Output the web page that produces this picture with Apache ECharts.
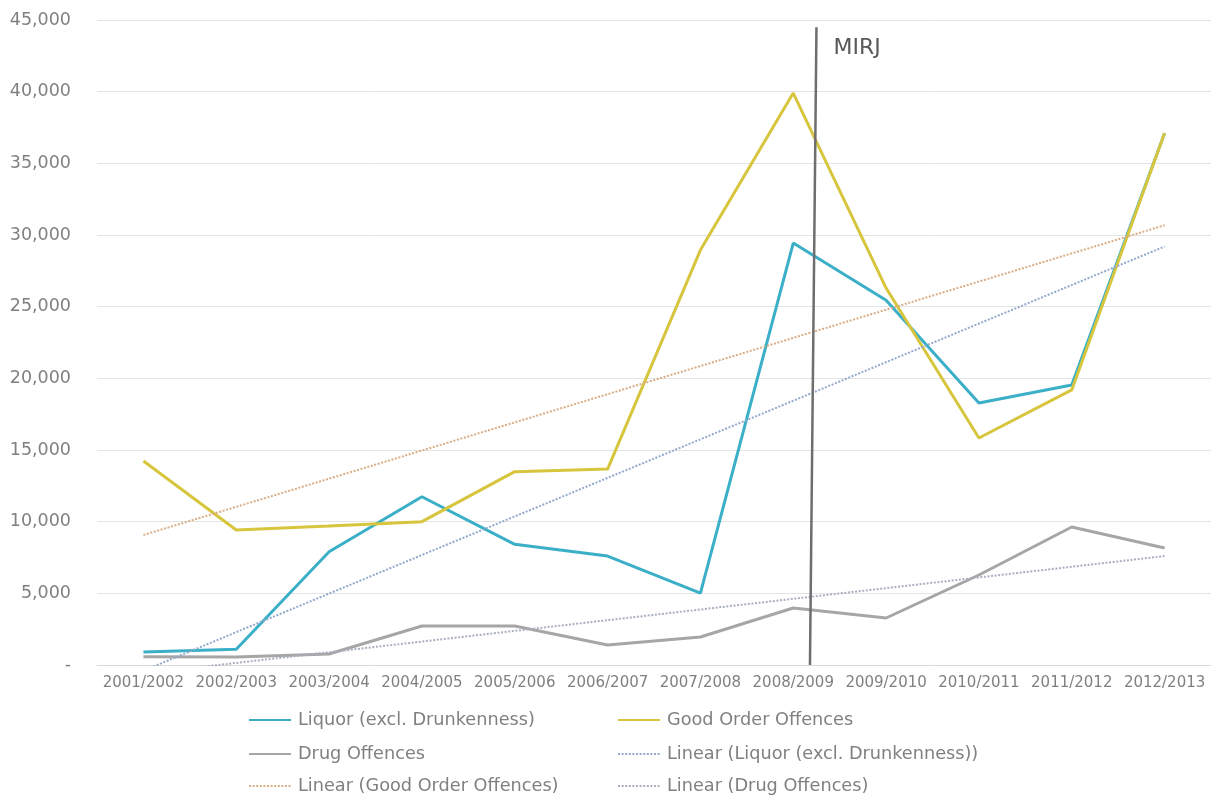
<!DOCTYPE html>
<html>
<head>
<meta charset="utf-8">
<script src="https://cdn.jsdelivr.net/npm/echarts@6/dist/echarts.min.js"></script>
<style>
  html, body { margin: 0; padding: 0; background: #ffffff; }
  #chart { width: 1212px; height: 798px; }
</style>
</head>
<body>
<div id="chart"></div>
<script>
// Financial years on the horizontal axis
const years = ['2001/2002', '2002/2003', '2003/2004', '2004/2005', '2005/2006', '2006/2007',
               '2007/2008', '2008/2009', '2009/2010', '2010/2011', '2011/2012', '2012/2013'];

// Recorded offences per year
const liquor    = [900, 1100, 7900, 11740, 8420, 7600, 5020, 29440, 25450, 18280, 19530, 37100];
const goodOrder = [14230, 9420, 9700, 10000, 13490, 13670, 28950, 39900, 26300, 15840, 19190, 37120];
const drug      = [580, 560, 770, 2720, 2720, 1400, 1950, 3980, 3280, 6280, 9630, 8160];

// Linear trend values at the first and the last year
const liquorTrend    = [-400, 29200];
const goodOrderTrend = [9070, 30680];
const drugTrend      = [-600, 7600];

// MIRJ marker: [position along the year axis (0 = first year), value]
const mirjMarker = [[7.25, 44500], [7.18, 0]];

// Value axis range
const yMin = 0, yMax = 45000, yStep = 5000;

const FONT = 'DejaVu Sans';
const TEXT_GREY = '#808080';

const names = {
  liquor: 'Liquor (excl. Drunkenness)',
  good: 'Good Order Offences',
  drug: 'Drug Offences',
  liquorT: 'Linear (Liquor (excl. Drunkenness))',
  goodT: 'Linear (Good Order Offences)',
  drugT: 'Linear (Drug Offences)'
};

function trendData(ends) {
  return [[years[0], ends[0]], [years[years.length - 1], ends[1]]];
}

function mainLine(name, data, color) {
  return {
    name, type: 'line', data, showSymbol: false, symbol: 'none',
    lineStyle: { color, width: 3 }, itemStyle: { color }, z: 3
  };
}

function trendLine(name, ends, color) {
  return {
    name, type: 'line', data: trendData(ends), showSymbol: false, symbol: 'none',
    lineStyle: { color, width: 2, type: [2, 1.6] }, itemStyle: { color }, z: 4
  };
}

// Legend: two columns of three rows, one entry per component
const legendCols = [248, 617];
const legendRows = [710, 744, 776];
const legendLayout = [
  [names.liquor, 0, 0], [names.good, 1, 0],
  [names.drug, 0, 1],   [names.liquorT, 1, 1],
  [names.goodT, 0, 2],  [names.drugT, 1, 2]
];
const legends = legendLayout.map(([name, col, row]) => ({
  left: legendCols[col], top: legendRows[row], padding: 0,
  itemWidth: 42, itemHeight: 14, itemGap: 0,
  itemStyle: { opacity: 0 },
  textStyle: { fontFamily: FONT, fontSize: 17.7, color: TEXT_GREY, lineHeight: 20, padding: [0, 0, 0, 2] },
  selectedMode: false,
  data: [name]
}));

const chart = echarts.init(document.getElementById('chart'), null, { renderer: 'canvas' });

chart.setOption({
  animation: false,
  backgroundColor: '#ffffff',
  grid: { left: 97, right: 1, top: 20, bottom: 133, containLabel: false },
  legend: legends,
  xAxis: [
    {
      type: 'category', data: years, boundaryGap: true,
      axisLine: { show: true, lineStyle: { color: '#d9d9d9', width: 1 } },
      axisTick: { show: false },
      axisLabel: { fontFamily: FONT, fontSize: 15, color: TEXT_GREY, margin: 11, interval: 0 }
    },
    {
      type: 'value', min: -0.5, max: years.length - 0.5, show: false
    }
  ],
  yAxis: {
    type: 'value', min: yMin, max: yMax, interval: yStep,
    axisLine: { show: false }, axisTick: { show: false },
    splitLine: { lineStyle: { color: '#e4e4e4', width: 1 } },
    axisLabel: {
      fontFamily: FONT, fontSize: 17.5, color: TEXT_GREY, margin: 26,
      formatter: v => v === 0 ? '-' : v.toLocaleString('en-US')
    }
  },
  series: [
    mainLine(names.liquor, liquor, '#3aafc7'),
    mainLine(names.good, goodOrder, '#d6c53d'),
    mainLine(names.drug, drug, '#a6a6a6'),
    trendLine(names.liquorT, liquorTrend, '#93a9cc'),
    trendLine(names.goodT, goodOrderTrend, '#d9ad85'),
    trendLine(names.drugT, drugTrend, '#a9afbf'),
    {
      name: 'MIRJ', type: 'line', xAxisIndex: 1, data: mirjMarker,
      showSymbol: false, symbol: 'none', clip: false, z: 5,
      lineStyle: { color: '#6e6e6e', width: 2.5 },
      markPoint: {
        symbol: 'circle', symbolSize: 0,
        data: [{
          coord: mirjMarker[0],
          label: {
            show: true, formatter: 'MIRJ', position: 'right', offset: [12, 21],
            fontFamily: FONT, fontSize: 22, color: '#595959'
          }
        }]
      }
    }
  ]
});
</script>
</body>
</html>
